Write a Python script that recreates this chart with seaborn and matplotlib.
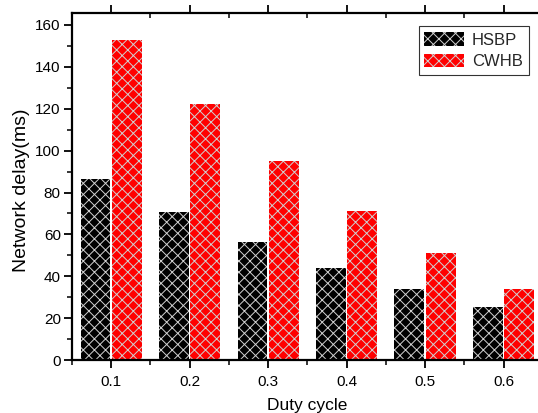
import matplotlib
matplotlib.use("Agg")
import matplotlib.pyplot as plt
import seaborn as sns
import pandas as pd
from matplotlib.ticker import MultipleLocator, FixedLocator
from matplotlib.patches import Patch

duty = ["0.1", "0.2", "0.3", "0.4", "0.5", "0.6"]
hsbp = [86.5, 70.5, 56.5, 44.0, 34.0, 25.5]
cwhb = [153.0, 122.5, 95.0, 71.0, 51.0, 34.0]
series = ["HSBP", "CWHB"]
colors = ["#000000", "#ff0000"]

sns.set_theme(style="white")
plt.rcParams['font.family'] = ['Liberation Sans', 'DejaVu Sans']
plt.rcParams['hatch.linewidth'] = 0.7

df = pd.DataFrame({
    "duty": duty * 2,
    "delay": hsbp + cwhb,
    "series": [series[0]] * len(duty) + [series[1]] * len(duty),
})

fig = plt.figure(figsize=(5.38, 4.13), dpi=100)
ax = fig.add_axes([0.1338, 0.128, 0.875, 0.8405])
sns.barplot(data=df, x="duty", y="delay", hue="series", palette=colors,
            width=0.8, gap=0.05, ax=ax, legend=False, saturation=1)
for p in ax.patches:
    p.set_hatch("xxx")
    p.set_edgecolor("#d0d0d0")
    p.set_linewidth(0)

ax.set_xlim(-0.5, 5.5)
ax.set_ylim(0, 165.7)
ax.yaxis.set_major_locator(MultipleLocator(20))
ax.yaxis.set_minor_locator(MultipleLocator(10))
ax.xaxis.set_minor_locator(FixedLocator([i + 0.5 for i in range(-1, 6)]))

for s in ax.spines.values():
    s.set_visible(True)
    s.set_color("black")
    s.set_linewidth(1.6)

ax.tick_params(axis="both", which="major", direction="out", length=6, width=1.3,
               labelsize=11, colors="black", bottom=True, left=True, top=True, right=False)
ax.tick_params(axis="both", which="minor", direction="out", length=3.5, width=1.3,
               bottom=True, left=True, top=True, right=False)
for t in ax.xaxis.get_major_ticks() + ax.xaxis.get_minor_ticks():
    t.tick2line.set_marker(3)
ax.tick_params(axis="x", pad=5)
ax.tick_params(axis="y", pad=2)

ax.set_xlabel("Duty cycle", fontsize=12.5, color="black", labelpad=6)
ax.set_ylabel("Network delay(ms)", fontsize=14, color="black")
ax.yaxis.set_label_coords(-0.09, 0.49)

handles = [Patch(facecolor=c, edgecolor="#d0d0d0", hatch="xxx", linewidth=0) for c in colors]
leg = ax.legend(handles, series, loc="upper right", bbox_to_anchor=(0.970, 0.962),
                fontsize=12, frameon=True, fancybox=False, edgecolor="black",
                handlelength=2.4, handleheight=0.9, borderpad=0.35, labelspacing=0.35,
                handletextpad=0.45, borderaxespad=0)
leg.get_frame().set_linewidth(0.8)

fig.savefig("out.png", dpi=100)
